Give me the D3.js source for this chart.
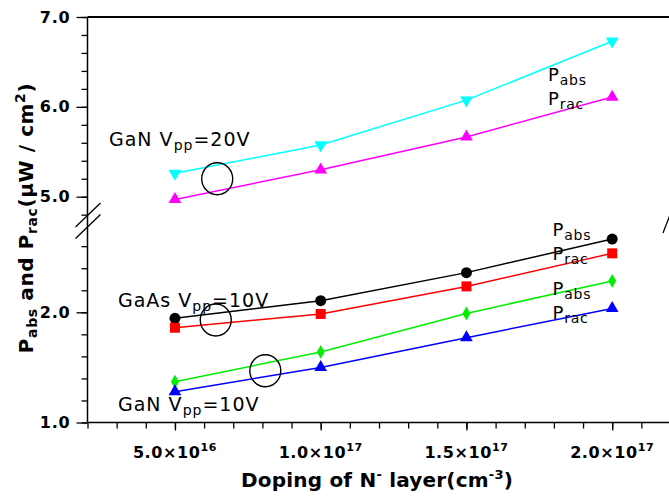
<!DOCTYPE html>
<html>
<head>
<meta charset="utf-8">
<script src="https://cdn.jsdelivr.net/npm/d3@7"></script>
<style>
  html, body { margin: 0; padding: 0; background: #fff; }
  svg { display: block; font-family: "DejaVu Sans", Verdana, sans-serif; }
</style>
</head>
<body>
<svg id="chart" width="669" height="497"></svg>
<script>
// Doping of the N- layer (cm^-3)
const doping = [5e16, 1e17, 1.5e17, 2e17];

// GaN, Vpp = 20 V (upper panel, µW/cm²)
const ganHighAbs = [5.26, 5.575, 6.075, 6.73];
const ganHighRac = [4.97, 5.30, 5.665, 6.11];

// GaAs, Vpp = 10 V (lower panel)
const gaasAbs = [1.945, 2.105, 2.36, 2.665];
const gaasRac = [1.86, 1.985, 2.235, 2.535];

// GaN, Vpp = 10 V (lower panel)
const ganLowAbs = [1.37, 1.64, 1.99, 2.285];
const ganLowRac = [1.28, 1.50, 1.77, 2.035];

// Axis tick values
const xMinorTicks = d3.range(2e16, 2.2e17 + 1, 1e16);
const xMajorTicks = [5e16, 1e17, 1.5e17, 2e17];
const xMajorMantissa = ["5.0", "1.0", "1.5", "2.0"];
const xMajorExponent = ["16", "17", "17", "17"];
const yTopMinor = d3.range(4.8, 7.0001, 0.2);
const yTopMajor = [5.0, 6.0, 7.0];
const yBotMinor = d3.range(1.0, 2.6001, 0.2);
const yBotMajor = [1.0, 2.0];

const svg = d3.select("#chart");

const x = d3.scaleLinear().domain([2e16, 2.2e17]).range([87.5, 670.5]);
const yTop = d3.scaleLinear().domain([5.0, 7.0]).range([196.7, 17]);
const yBot = d3.scaleLinear().domain([1.0, 2.0]).range([422.5, 312.3]);

const axisColor = "#000";

// ---- y axes (ticks only; the spine is drawn once below) ----
function yAxis(scale, minor, major) {
  const g = svg.append("g").attr("transform", `translate(${x.range()[0]},0)`);
  g.append("g").call(d3.axisLeft(scale).tickValues(minor).tickSize(6).tickFormat(""))
    .call(s => s.select(".domain").remove());
  g.append("g").call(d3.axisLeft(scale).tickValues(major).tickSize(11).tickPadding(6)
      .tickFormat(d3.format(".1f")))
    .call(s => s.select(".domain").remove())
    .call(s => s.selectAll("text").attr("font-family", "DejaVu Sans")
      .attr("font-size", 16).attr("font-weight", "bold").attr("fill", "#000")
      .attr("letter-spacing", 0.8));
  g.selectAll("line").attr("stroke", axisColor).attr("stroke-width", 1.3);
}
yAxis(yTop, yTopMinor, yTopMajor);
yAxis(yBot, yBotMinor, yBotMajor);

// left spine
svg.append("line")
  .attr("x1", x.range()[0]).attr("x2", x.range()[0])
  .attr("y1", yTop(7.0)).attr("y2", yBot(1.0))
  .attr("stroke", axisColor).attr("stroke-width", 1.5);

// top frame line
svg.append("line")
  .attr("x1", x.range()[0]).attr("x2", 669)
  .attr("y1", yTop(7.0)).attr("y2", yTop(7.0))
  .attr("stroke", axisColor).attr("stroke-width", 2);

// ---- x axis ----
const xg = svg.append("g").attr("transform", `translate(0,${yBot(1.0)})`);
xg.append("g").call(d3.axisBottom(x).tickValues(xMinorTicks).tickSize(6).tickFormat(""))
  .call(s => s.select(".domain").remove());
xg.append("g").call(d3.axisBottom(x).tickValues(xMajorTicks).tickSize(8).tickFormat(""))
  .call(s => s.select(".domain").remove());
xg.selectAll("line").attr("stroke", axisColor).attr("stroke-width", 1.3);
svg.append("line")
  .attr("x1", x.range()[0]).attr("x2", 669)
  .attr("y1", yBot(1.0)).attr("y2", yBot(1.0))
  .attr("stroke", axisColor).attr("stroke-width", 1.5);

// x tick labels with powers of ten
xMajorTicks.forEach((v, i) => {
  const t = svg.append("text")
    .attr("x", x(v)).attr("y", 458)
    .attr("text-anchor", "middle")
    .attr("font-size", 16).attr("font-weight", "bold")
    .attr("letter-spacing", 0.6);
  t.append("tspan").text(xMajorMantissa[i] + "\u00d710");
  t.append("tspan").attr("font-size", 11).attr("dy", -7).text(xMajorExponent[i]);
});

// axis break marks
function breakMark(cx, pairs) {
  pairs.forEach(p => {
    svg.append("line")
      .attr("x1", cx + p[0]).attr("y1", p[1])
      .attr("x2", cx + p[2]).attr("y2", p[3])
      .attr("stroke", "#000").attr("stroke-width", 1.3);
  });
}
breakMark(x.range()[0], [[-12, 227, 13, 203], [-12, 238.5, 13, 214.5]]);
breakMark(669, [[-6, 233, 1, 215]]);

// ---- series ----
const seriesDefs = [
  { vals: ganHighAbs, y: yTop, color: "#00ffff", shape: "triDown" },
  { vals: ganHighRac, y: yTop, color: "#ff00ff", shape: "triUp" },
  { vals: gaasAbs,    y: yBot, color: "#000000", shape: "circle" },
  { vals: gaasRac,    y: yBot, color: "#ff0000", shape: "square" },
  { vals: ganLowAbs,  y: yBot, color: "#00ee00", shape: "diamond" },
  { vals: ganLowRac,  y: yBot, color: "#0000ff", shape: "triUp" }
];

const symbolPaths = {
  circle:  d3.symbol().type(d3.symbolCircle).size(95)(),
  square:  d3.symbol().type(d3.symbolSquare).size(100)(),
  diamond: d3.symbol().type(d3.symbolDiamond).size(55)(),
  triUp:   d3.symbol().type(d3.symbolTriangle).size(70)(),
  triDown: d3.symbol().type(d3.symbolTriangle).size(70)()
};

seriesDefs.forEach(s => {
  const pts = doping.map((d, i) => [x(d), s.y(s.vals[i])]);
  svg.append("path")
    .attr("d", d3.line()(pts))
    .attr("fill", "none").attr("stroke", s.color).attr("stroke-width", 1.5);
  svg.append("g").selectAll("path").data(pts).join("path")
    .attr("d", symbolPaths[s.shape])
    .attr("transform", p => `translate(${p[0]},${p[1]})` + (s.shape === "triDown" ? " rotate(180)" : ""))
    .attr("fill", s.color);
});

// ---- annotations ----
function subLabel(px, py, main, sub, rest, size, subSize, spacing) {
  const t = svg.append("text").attr("x", px).attr("y", py)
    .attr("font-size", size).attr("fill", "#000")
    .attr("letter-spacing", spacing);
  t.append("tspan").text(main);
  t.append("tspan").attr("font-size", subSize).attr("dy", 4).text(sub);
  if (rest) t.append("tspan").attr("dy", -4).text(rest);
  return t;
}

subLabel(109, 146, "GaN V", "pp", "=20V", 19, 14, 1);
subLabel(118, 307, "GaAs V", "pp", "=10V", 19, 14, 1);
subLabel(118, 411, "GaN V", "pp", "=10V", 19, 14, 1);

subLabel(548, 81, "P", "abs", null, 18, 14, 0.8);
subLabel(548, 104.5, "P", "rac", null, 18, 14, 0.8);
subLabel(552.5, 236, "P", "abs", null, 18, 14, 0.8);
subLabel(552.5, 260, "P", "rac", null, 18, 14, 0.8);
subLabel(552.5, 295, "P", "abs", null, 18, 14, 0.8);
subLabel(552.5, 318.5, "P", "rac", null, 18, 14, 0.8);

// group circles around paired curves
const rings = [
  { d: 6.45e16, v: 5.2, y: yTop },
  { d: 6.4e16, v: 1.93, y: yBot },
  { d: 8.1e16, v: 1.47, y: yBot }
];
svg.append("g").selectAll("ellipse").data(rings).join("ellipse")
  .attr("cx", r => x(r.d)).attr("cy", r => r.y(r.v))
  .attr("rx", 15.5).attr("ry", 16)
  .attr("fill", "none").attr("stroke", "#000").attr("stroke-width", 1.4);

// ---- axis titles ----
const yTitle = svg.append("text")
  .attr("transform", "translate(32.5,218) rotate(-90)")
  .attr("text-anchor", "middle")
  .attr("font-size", 20).attr("font-weight", "bold")
  .attr("letter-spacing", 0.6);
yTitle.append("tspan").text("P");
yTitle.append("tspan").attr("font-size", 14).attr("dy", 4).text("abs");
yTitle.append("tspan").attr("dy", -4).text(" and P");
yTitle.append("tspan").attr("font-size", 14).attr("dy", 4).text("rac");
yTitle.append("tspan").attr("dy", -4).text("(\u03bcW / cm");
yTitle.append("tspan").attr("font-size", 14).attr("dy", -8).text("2");
yTitle.append("tspan").attr("dy", 8).text(")");

const xTitle = svg.append("text")
  .attr("x", 377).attr("y", 487)
  .attr("text-anchor", "middle")
  .attr("font-size", 20).attr("font-weight", "bold")
  .attr("letter-spacing", 0.2);
xTitle.append("tspan").text("Doping of N");
xTitle.append("tspan").attr("font-size", 13).attr("dy", -8).text("-");
xTitle.append("tspan").attr("dy", 8).text(" layer(cm");
xTitle.append("tspan").attr("font-size", 13).attr("dy", -8).text("-3");
xTitle.append("tspan").attr("dy", 8).text(")");
</script>
</body>
</html>
